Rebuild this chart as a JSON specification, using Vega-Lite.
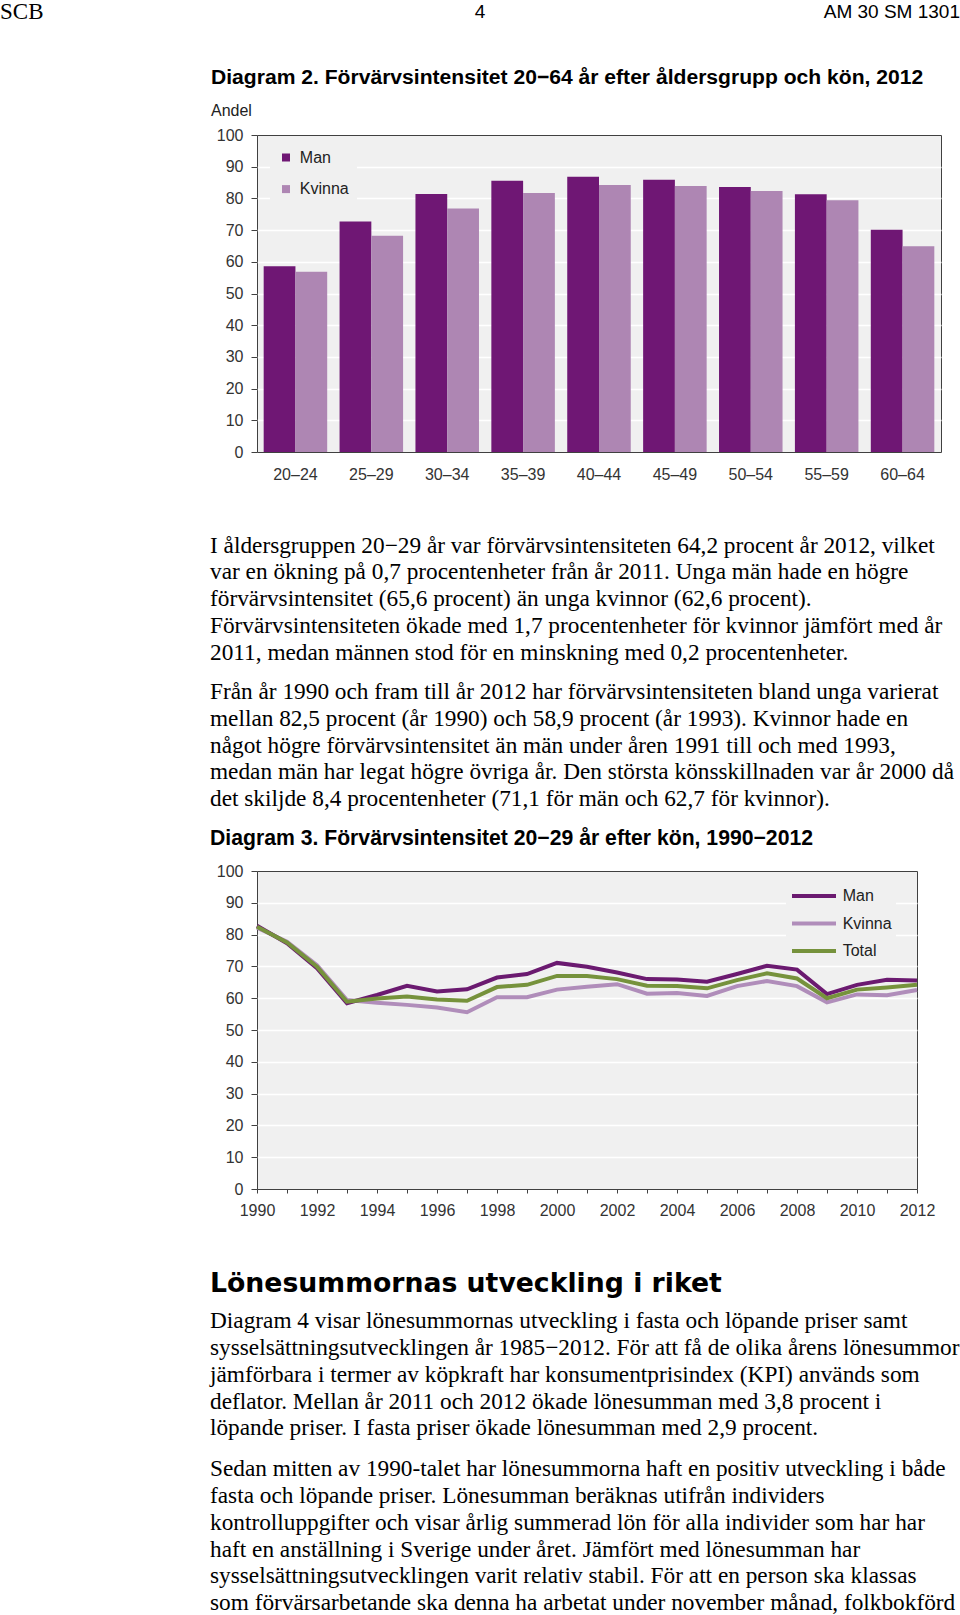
{
  "$schema": "https://vega.github.io/schema/vega-lite/v6.json",
  "padding": 0,
  "autosize": {"type": "pad"},
  "background": "white",
  "spacing": 42,
  "config": {
    "font": "Liberation Sans",
    "view": {"stroke": null},
    "axis": {"labelFont": "Liberation Sans", "labelFontSize": 16, "labelColor": "#333333", "tickColor": "#404040"},
    "title": {"anchor": "start", "frame": "group", "color": "#000000", "fontWeight": "normal"}
  },
  "datasets": {
    "sidhuvud": [
      {"del": "vänster", "text": "SCB"},
      {"del": "mitten", "text": "4"},
      {"del": "höger", "text": "AM 30 SM 1301"}
    ],
    "tom": [{"rad": ""}],
    "alder": [
      {"alder": "20–24", "kon": "Man", "andel": 58.6},
      {"alder": "20–24", "kon": "Kvinna", "andel": 56.9},
      {"alder": "25–29", "kon": "Man", "andel": 72.7},
      {"alder": "25–29", "kon": "Kvinna", "andel": 68.2},
      {"alder": "30–34", "kon": "Man", "andel": 81.4},
      {"alder": "30–34", "kon": "Kvinna", "andel": 76.8},
      {"alder": "35–39", "kon": "Man", "andel": 85.6},
      {"alder": "35–39", "kon": "Kvinna", "andel": 81.7},
      {"alder": "40–44", "kon": "Man", "andel": 86.8},
      {"alder": "40–44", "kon": "Kvinna", "andel": 84.2},
      {"alder": "45–49", "kon": "Man", "andel": 85.9},
      {"alder": "45–49", "kon": "Kvinna", "andel": 83.9},
      {"alder": "50–54", "kon": "Man", "andel": 83.6},
      {"alder": "50–54", "kon": "Kvinna", "andel": 82.3},
      {"alder": "55–59", "kon": "Man", "andel": 81.3},
      {"alder": "55–59", "kon": "Kvinna", "andel": 79.4},
      {"alder": "60–64", "kon": "Man", "andel": 70.1},
      {"alder": "60–64", "kon": "Kvinna", "andel": 64.9}
    ],
    "unga": [
      {"ar": 1990, "serie": "Kvinna", "andel": 82.2},
      {"ar": 1991, "serie": "Kvinna", "andel": 77.8},
      {"ar": 1992, "serie": "Kvinna", "andel": 70.4},
      {"ar": 1993, "serie": "Kvinna", "andel": 59.4},
      {"ar": 1994, "serie": "Kvinna", "andel": 58.6},
      {"ar": 1995, "serie": "Kvinna", "andel": 57.9},
      {"ar": 1996, "serie": "Kvinna", "andel": 57.1},
      {"ar": 1997, "serie": "Kvinna", "andel": 55.6},
      {"ar": 1998, "serie": "Kvinna", "andel": 60.3},
      {"ar": 1999, "serie": "Kvinna", "andel": 60.3},
      {"ar": 2000, "serie": "Kvinna", "andel": 62.7},
      {"ar": 2001, "serie": "Kvinna", "andel": 63.6},
      {"ar": 2002, "serie": "Kvinna", "andel": 64.4},
      {"ar": 2003, "serie": "Kvinna", "andel": 61.4},
      {"ar": 2004, "serie": "Kvinna", "andel": 61.6},
      {"ar": 2005, "serie": "Kvinna", "andel": 60.7},
      {"ar": 2006, "serie": "Kvinna", "andel": 63.8},
      {"ar": 2007, "serie": "Kvinna", "andel": 65.4},
      {"ar": 2008, "serie": "Kvinna", "andel": 63.8},
      {"ar": 2009, "serie": "Kvinna", "andel": 58.7},
      {"ar": 2010, "serie": "Kvinna", "andel": 61.2},
      {"ar": 2011, "serie": "Kvinna", "andel": 60.9},
      {"ar": 2012, "serie": "Kvinna", "andel": 62.6},
      {"ar": 1990, "serie": "Man", "andel": 82.8},
      {"ar": 1991, "serie": "Man", "andel": 77.3},
      {"ar": 1992, "serie": "Man", "andel": 69.4},
      {"ar": 1993, "serie": "Man", "andel": 58.4},
      {"ar": 1994, "serie": "Man", "andel": 61.0},
      {"ar": 1995, "serie": "Man", "andel": 63.9},
      {"ar": 1996, "serie": "Man", "andel": 62.1},
      {"ar": 1997, "serie": "Man", "andel": 62.8},
      {"ar": 1998, "serie": "Man", "andel": 66.5},
      {"ar": 1999, "serie": "Man", "andel": 67.6},
      {"ar": 2000, "serie": "Man", "andel": 71.1},
      {"ar": 2001, "serie": "Man", "andel": 69.9},
      {"ar": 2002, "serie": "Man", "andel": 68.1},
      {"ar": 2003, "serie": "Man", "andel": 66.0},
      {"ar": 2004, "serie": "Man", "andel": 65.9},
      {"ar": 2005, "serie": "Man", "andel": 65.2},
      {"ar": 2006, "serie": "Man", "andel": 67.6},
      {"ar": 2007, "serie": "Man", "andel": 70.2},
      {"ar": 2008, "serie": "Man", "andel": 69.0},
      {"ar": 2009, "serie": "Man", "andel": 61.3},
      {"ar": 2010, "serie": "Man", "andel": 64.2},
      {"ar": 2011, "serie": "Man", "andel": 65.8},
      {"ar": 2012, "serie": "Man", "andel": 65.6},
      {"ar": 1990, "serie": "Total", "andel": 82.5},
      {"ar": 1991, "serie": "Total", "andel": 77.5},
      {"ar": 1992, "serie": "Total", "andel": 69.9},
      {"ar": 1993, "serie": "Total", "andel": 58.9},
      {"ar": 1994, "serie": "Total", "andel": 59.9},
      {"ar": 1995, "serie": "Total", "andel": 60.5},
      {"ar": 1996, "serie": "Total", "andel": 59.6},
      {"ar": 1997, "serie": "Total", "andel": 59.2},
      {"ar": 1998, "serie": "Total", "andel": 63.5},
      {"ar": 1999, "serie": "Total", "andel": 64.2},
      {"ar": 2000, "serie": "Total", "andel": 67.0},
      {"ar": 2001, "serie": "Total", "andel": 67.0},
      {"ar": 2002, "serie": "Total", "andel": 66.0},
      {"ar": 2003, "serie": "Total", "andel": 63.9},
      {"ar": 2004, "serie": "Total", "andel": 63.8},
      {"ar": 2005, "serie": "Total", "andel": 63.1},
      {"ar": 2006, "serie": "Total", "andel": 65.7},
      {"ar": 2007, "serie": "Total", "andel": 67.8},
      {"ar": 2008, "serie": "Total", "andel": 66.2},
      {"ar": 2009, "serie": "Total", "andel": 60.0},
      {"ar": 2010, "serie": "Total", "andel": 62.7},
      {"ar": 2011, "serie": "Total", "andel": 63.4},
      {"ar": 2012, "serie": "Total", "andel": 64.2}
    ]
  },
  "vconcat": [
    {
      "width": 703,
      "height": 24,
      "data": {"name": "sidhuvud"},
      "encoding": {
        "x": {"field": "del", "type": "nominal", "scale": {"type": "point", "domain": ["vänster", "mitten", "höger"], "range": [-257, 703], "padding": 0}, "axis": null},
        "text": {"field": "text"}
      },
      "layer": [
        {"transform": [{"filter": "datum.del == 'vänster'"}], "mark": {"type": "text", "align": "left", "baseline": "middle", "font": "Liberation Serif", "fontSize": 23, "color": "#000000"}},
        {"transform": [{"filter": "datum.del == 'mitten'"}], "mark": {"type": "text", "align": "center", "baseline": "middle", "font": "Liberation Sans", "fontSize": 19, "color": "#000000"}},
        {"transform": [{"filter": "datum.del == 'höger'"}], "mark": {"type": "text", "align": "right", "baseline": "middle", "font": "Liberation Sans", "fontSize": 19, "color": "#000000"}}
      ]
    },
    {
      "spacing": 16.5,
      "resolve": {"scale": {"color": "independent"}},
      "vconcat": [
        {
          "width": 684,
          "height": 317,
          "view": {"fill": "#f0f0f0", "stroke": "#404040", "strokeWidth": 1},
          "data": {"name": "alder"},
          "title": {
            "text": "Diagram 2. Förvärvsintensitet 20−64 år efter åldersgrupp och kön, 2012",
            "subtitle": "Andel",
            "dx": -46, "offset": 8,
            "font": "Liberation Sans", "fontSize": 21.1, "fontWeight": "bold",
            "subtitleFont": "Liberation Sans", "subtitleFontSize": 16, "subtitleColor": "#222222", "subtitlePadding": 15
          },
          "mark": {"type": "bar"},
          "encoding": {
            "x": {"field": "alder", "type": "nominal", "sort": null, "scale": {"paddingInner": 0.163, "paddingOuter": 0.088},
                  "axis": {"title": null, "labelAngle": 0, "ticks": false, "domain": false, "grid": false, "labelPadding": 14}},
            "xOffset": {"field": "kon", "type": "nominal", "sort": ["Man", "Kvinna"]},
            "y": {"field": "andel", "type": "quantitative", "scale": {"domain": [0, 100], "nice": false},
                  "axis": {"title": null, "values": [0, 10, 20, 30, 40, 50, 60, 70, 80, 90, 100], "tickSize": 6, "domain": false, "labelPadding": 8,
                           "grid": true, "gridWidth": 1.5, "gridColor": {"condition": {"test": "datum.value == 0 || datum.value == 100", "value": "transparent"}, "value": "#ffffff"}}},
            "color": {"field": "kon", "type": "nominal",
                      "scale": {"domain": ["Man", "Kvinna"], "range": ["#6f1774", "#ae86b3"]},
                      "legend": {"title": null, "orient": "none", "legendX": 13, "legendY": 6.5, "direction": "vertical",
                                 "symbolType": "square", "symbolSize": 64, "symbolStrokeWidth": 0, "symbolOpacity": 1,
                                 "labelFontSize": 16, "labelFont": "Liberation Sans", "labelColor": "#222222",
                                 "rowPadding": 15.6, "labelOffset": 5.8, "fillColor": "#f0f0f0", "padding": 8}}
          }
        },
        {
          "width": 703,
          "height": 1,
          "data": {"name": "tom"},
          "mark": {"type": "text"},
          "encoding": {"text": {"field": "rad"}},
          "title": {
            "text": [
              "I åldersgruppen 20−29 år var förvärvsintensiteten 64,2 procent år 2012, vilket",
              "var en ökning på 0,7 procentenheter från år 2011. Unga män hade en högre",
              "förvärvsintensitet (65,6 procent) än unga kvinnor (62,6 procent).",
              "Förvärvsintensiteten ökade med 1,7 procentenheter för kvinnor jämfört med år",
              "2011, medan männen stod för en minskning med 0,2 procentenheter."
            ],
            "subtitle": [
              "Från år 1990 och fram till år 2012 har förvärvsintensiteten bland unga varierat",
              "mellan 82,5 procent (år 1990) och 58,9 procent (år 1993). Kvinnor hade en",
              "något högre förvärvsintensitet än män under åren 1991 till och med 1993,",
              "medan män har legat högre övriga år. Den största könsskillnaden var år 2000 då",
              "det skiljde 8,4 procentenheter (71,1 för män och 62,7 för kvinnor)."
            ],
            "orient": "bottom", "dx": -47, "offset": 23.5,
            "font": "Liberation Serif", "fontSize": 23.3, "lineHeight": 26.8,
            "subtitleFont": "Liberation Serif", "subtitleFontSize": 23.3, "subtitleLineHeight": 26.8, "subtitleColor": "#000000", "subtitlePadding": 16
          }
        },
        {
          "width": 660,
          "height": 318,
          "view": {"fill": "#f0f0f0", "stroke": "#404040", "strokeWidth": 1},
          "data": {"name": "unga"},
          "title": {
            "text": "Diagram 3. Förvärvsintensitet 20−29 år efter kön, 1990−2012",
            "dx": -47, "offset": 13.5,
            "font": "Liberation Sans", "fontSize": 21.2, "fontWeight": "bold"
          },
          "mark": {"type": "line", "strokeWidth": 4, "strokeJoin": "miter"},
          "encoding": {
            "x": {"field": "ar", "type": "quantitative", "scale": {"domain": [1990, 2012], "nice": false, "zero": false},
                  "axis": {"title": null, "values": [1990, 1991, 1992, 1993, 1994, 1995, 1996, 1997, 1998, 1999, 2000, 2001, 2002, 2003, 2004, 2005, 2006, 2007, 2008, 2009, 2010, 2011, 2012],
                           "format": "d", "labelExpr": "datum.value % 2 == 0 ? datum.label : ''", "labelFlush": false, "labelOverlap": false,
                           "tickSize": 4, "domain": false, "grid": false, "labelPadding": 9}},
            "y": {"field": "andel", "type": "quantitative", "scale": {"domain": [0, 100], "nice": false},
                  "axis": {"title": null, "values": [0, 10, 20, 30, 40, 50, 60, 70, 80, 90, 100], "tickSize": 6, "domain": false, "labelPadding": 8,
                           "grid": true, "gridWidth": 1.5, "gridColor": {"condition": {"test": "datum.value == 0 || datum.value == 100", "value": "transparent"}, "value": "#ffffff"}}},
            "color": {"field": "serie", "type": "nominal",
                      "scale": {"domain": ["Man", "Kvinna", "Total"], "range": ["#6b1a70", "#b08dba", "#76923c"]},
                      "legend": {"title": null, "orient": "none", "legendX": 529, "legendY": 11, "direction": "vertical",
                                 "symbolType": "M-1,0H4.5", "symbolSize": 256, "symbolStrokeWidth": 4, "symbolFillColor": "transparent",
                                 "labelFontSize": 16, "labelFont": "Liberation Sans", "labelColor": "#222222",
                                 "rowPadding": 9.5, "labelOffset": 32.7, "fillColor": "#f0f0f0", "padding": 4}}
          }
        },
        {
          "width": 703,
          "height": 1,
          "data": {"name": "tom"},
          "mark": {"type": "text"},
          "encoding": {"text": {"field": "rad"}},
          "title": {
            "text": "Lönesummornas utveckling i riket",
            "subtitle": [
              "Diagram 4 visar lönesummornas utveckling i fasta och löpande priser samt",
              "sysselsättningsutvecklingen år 1985−2012. För att få de olika årens lönesummor",
              "jämförbara i termer av köpkraft har konsumentprisindex (KPI) används som",
              "deflator. Mellan år 2011 och 2012 ökade lönesumman med 3,8 procent i",
              "löpande priser. I fasta priser ökade lönesumman med 2,9 procent."
            ],
            "orient": "bottom", "dx": -47, "offset": 24,
            "font": "DejaVu Sans", "fontSize": 26.7, "fontWeight": "bold",
            "subtitleFont": "Liberation Serif", "subtitleFontSize": 23.3, "subtitleLineHeight": 26.8, "subtitleColor": "#000000", "subtitlePadding": 12.6
          }
        },
        {
          "width": 703,
          "height": 1,
          "data": {"name": "tom"},
          "mark": {"type": "text"},
          "encoding": {"text": {"field": "rad"}},
          "title": {
            "text": [
              "Sedan mitten av 1990-talet har lönesummorna haft en positiv utveckling i både",
              "fasta och löpande priser. Lönesumman beräknas utifrån individers",
              "kontrolluppgifter och visar årlig summerad lön för alla individer som har har",
              "haft en anställning i Sverige under året. Jämfört med lönesumman har",
              "sysselsättningsutvecklingen varit relativ stabil. För att en person ska klassas",
              "som förvärsarbetande ska denna ha arbetat under november månad, folkbokförd"
            ],
            "dx": -47, "offset": 0,
            "font": "Liberation Serif", "fontSize": 23.3, "lineHeight": 26.8
          }
        }
      ]
    }
  ]
}
